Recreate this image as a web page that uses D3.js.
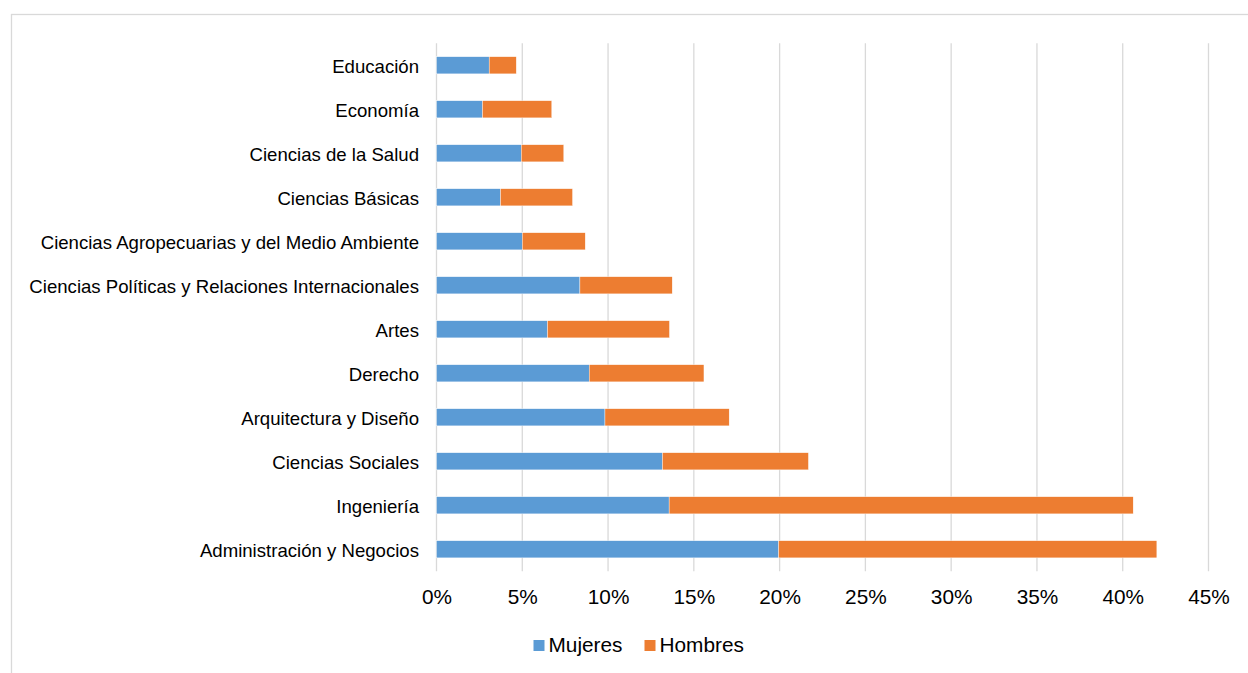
<!DOCTYPE html>
<html>
<head>
<meta charset="utf-8">
<script src="https://cdn.jsdelivr.net/npm/d3@7"></script>
<style>
  html, body { margin: 0; padding: 0; background: #fff; }
  svg { display: block; font-family: "Liberation Sans", Arial, sans-serif; }
</style>
</head>
<body>
<svg id="chart" width="1248" height="673"></svg>
<script>
// Field of study, top to bottom
const categories = [
  "Educación",
  "Economía",
  "Ciencias de la Salud",
  "Ciencias Básicas",
  "Ciencias Agropecuarias y del Medio Ambiente",
  "Ciencias Políticas y Relaciones Internacionales",
  "Artes",
  "Derecho",
  "Arquitectura y Diseño",
  "Ciencias Sociales",
  "Ingeniería",
  "Administración y Negocios"
];
// Share (%) by sex
const mujeres = [3.07, 2.68, 4.94, 3.73, 5.0, 8.36, 6.47, 8.9, 9.82, 13.17, 13.56, 19.94];
const hombres = [1.58, 4.04, 2.48, 4.2, 3.67, 5.38, 7.11, 6.69, 7.24, 8.51, 27.05, 22.05];
const seriesNames = ["Mujeres", "Hombres"];
const tickValues = [0, 5, 10, 15, 20, 25, 30, 35, 40, 45];

const colors = { Mujeres: "#5B9BD5", Hombres: "#ED7D31" };

const svg = d3.select("#chart");

// chart frame
svg.append("rect")
  .attr("x", 11.5).attr("y", 14.5)
  .attr("width", 1300).attr("height", 700)
  .attr("fill", "none")
  .attr("stroke", "#d9d9d9")
  .attr("stroke-width", 1.3);

const plot = { left: 436.5, right: 1208.5, top: 43.3, bottom: 571.3 };

const x = d3.scaleLinear().domain([0, 45]).range([plot.left, plot.right]);
const y = d3.scaleBand()
  .domain(categories)
  .range([plot.top, plot.bottom])
  .paddingInner(0.61)
  .paddingOuter(0.305);

const rows = categories.map((c, i) => ({ cat: c, Mujeres: mujeres[i], Hombres: hombres[i] }));
const stacked = d3.stack().keys(seriesNames)(rows);

// vertical gridlines
svg.append("g")
  .selectAll("line")
  .data(tickValues)
  .join("line")
  .attr("x1", d => x(d)).attr("x2", d => x(d))
  .attr("y1", plot.top).attr("y2", plot.bottom)
  .attr("stroke", "#d9d9d9")
  .attr("stroke-width", 1.3);

// stacked bars
svg.append("g")
  .selectAll("g")
  .data(stacked)
  .join("g")
  .attr("fill", d => colors[d.key])
  .selectAll("rect")
  .data(d => d)
  .join("rect")
  .attr("x", d => x(d[0]))
  .attr("width", d => x(d[1]) - x(d[0]))
  .attr("y", d => y(d.data.cat))
  .attr("height", y.bandwidth())
  .attr("stroke", "#ffffff")
  .attr("stroke-width", 0.4);

// category axis
const yAxis = svg.append("g")
  .attr("transform", `translate(${plot.left},0)`)
  .call(d3.axisLeft(y).tickSize(0).tickPadding(17.5));
yAxis.select(".domain").remove();
yAxis.selectAll("text")
  .attr("dy", "0.39em")
  .attr("font-family", "Liberation Sans, Arial, sans-serif")
  .attr("font-size", 18.6)
  .attr("fill", "#000");

// value axis
const xAxis = svg.append("g")
  .attr("transform", `translate(0,${plot.bottom})`)
  .call(d3.axisBottom(x).tickValues(tickValues).tickFormat(d => d + "%").tickSize(0).tickPadding(18));
xAxis.select(".domain").remove();
xAxis.selectAll("text")
  .attr("font-family", "Liberation Sans, Arial, sans-serif")
  .attr("font-size", 20.8)
  .attr("fill", "#000");

// legend
const legendItems = [
  { name: "Mujeres", x: 533.5 },
  { name: "Hombres", x: 644.5 }
];
const legend = svg.append("g");
legendItems.forEach(item => {
  legend.append("rect")
    .attr("x", item.x).attr("y", 640)
    .attr("width", 11).attr("height", 11)
    .attr("fill", colors[item.name]);
  legend.append("text")
    .attr("x", item.x + 15).attr("y", 652)
    .attr("font-size", 20.8)
    .attr("fill", "#000")
    .text(item.name);
});
</script>
</body>
</html>
